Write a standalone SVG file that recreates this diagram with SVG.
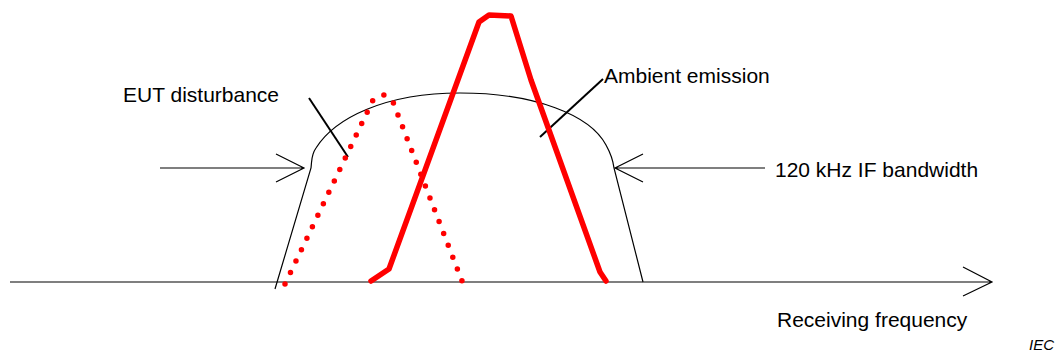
<svg xmlns="http://www.w3.org/2000/svg" width="1058" height="354" viewBox="0 0 1058 354">
<style>
.ln{fill:none;stroke:#000;stroke-width:1.2}
.ld{fill:none;stroke:#000;stroke-width:2}
.red{fill:none;stroke:#ff0000;stroke-width:5.5;stroke-linejoin:round;stroke-linecap:round}
.dot{fill:none;stroke:#ff0000;stroke-width:5.5;stroke-linecap:round;stroke-dasharray:0 12.7}
.t{font-family:"Liberation Sans",Arial,sans-serif;font-size:21px;fill:#000}
.iec{font-family:"Liberation Sans",Arial,sans-serif;font-size:15px;font-style:italic;fill:#000}
</style>
<rect width="1058" height="354" fill="#fff"/>
<g id="connectors">
<path class="ln" d="M10,282 H992 M963,267 L992,282 L963,296"/>
<path class="ln" d="M160,168 H304 M276,154 L304,168 L276,182"/>
<path class="ln" d="M765,168 H615 M643,154 L615,168 L643,182"/>
<path class="ld" d="M309,98 L348,157"/>
<path class="ld" d="M603,79 L540,137"/>
</g>
<g id="bandwidth">
<path class="ln" d="M275,289 L311,168 C312,160 311,155 316,148 C335,118 385,93 460,93 C535,93 590,115 606,145 C611,154 613,160 614,168 L643,282"/>
</g>
<g id="eut-disturbance-curve">
<path class="dot" d="M285,284 L373,100 L384,95 L393,102 L462,281"/>
</g>
<g id="ambient-emission-curve">
<path class="red" d="M371,281 L389,269 L479,22 L489,15 L511,16 L531,80 L600,272 L606,281"/>
</g>
<g id="labels">
<text class="t" x="123" y="102">EUT disturbance</text>
<text class="t" x="604" y="83">Ambient emission</text>
<text class="t" x="775" y="177">120 kHz IF bandwidth</text>
<text class="t" x="777" y="327">Receiving frequency</text>
<text class="iec" x="1029" y="350">IEC</text>
</g>
</svg>
